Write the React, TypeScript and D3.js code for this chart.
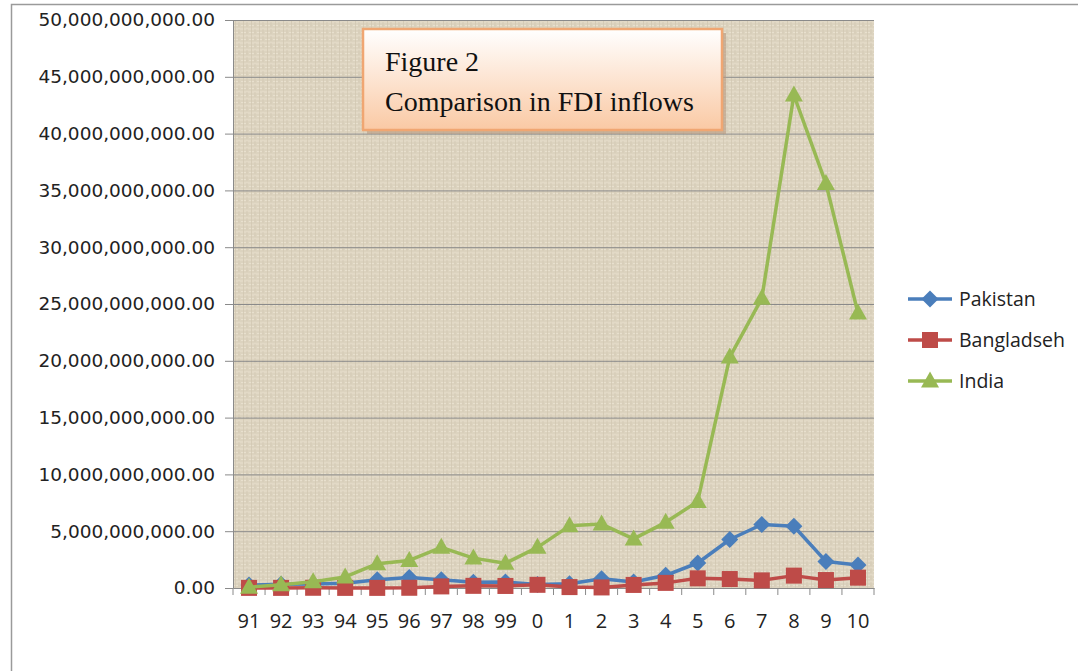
import React, { useEffect, useRef } from 'react';
import * as d3 from 'd3';

const years = ['91', '92', '93', '94', '95', '96', '97', '98', '99', '0', '1', '2', '3', '4', '5', '6', '7', '8', '9', '10'];
const pakistan = [0.26, 0.34, 0.35, 0.42, 0.72, 0.92, 0.72, 0.51, 0.53, 0.31, 0.38, 0.82, 0.53, 1.12, 2.2, 4.27, 5.59, 5.44, 2.34, 2.02];
const bangladesh = [0.01, 0.01, 0.02, 0.01, 0.01, 0.02, 0.14, 0.19, 0.18, 0.28, 0.08, 0.05, 0.27, 0.45, 0.85, 0.79, 0.67, 1.09, 0.7, 0.91];
const india = [0.07, 0.28, 0.55, 0.97, 2.14, 2.43, 3.58, 2.63, 2.17, 3.58, 5.47, 5.63, 4.32, 5.78, 7.62, 20.33, 25.5, 43.4, 35.6, 24.2];
const yTicks = [0, 5, 10, 15, 20, 25, 30, 35, 40, 45, 50];

const series = [
  { name: 'Pakistan', values: pakistan, color: '#4a7ebb', marker: 'diamond' },
  { name: 'Bangladseh', values: bangladesh, color: '#be4b48', marker: 'square' },
  { name: 'India', values: india, color: '#98b954', marker: 'triangle' },
];

const W = 1078;
const H = 671;
const margin = { top: 20, right: 204, bottom: 83, left: 233 };

const App = () => {
  const svgRef = useRef<SVGSVGElement>(null);

  useEffect(() => {
    const svg = d3.select(svgRef.current);
    svg.selectAll('*').remove();

    const innerW = W - margin.left - margin.right;
    const innerH = H - margin.top - margin.bottom;

    const defs = svg.append('defs');
    const pat = defs.append('pattern')
      .attr('id', 'linen')
      .attr('patternUnits', 'userSpaceOnUse')
      .attr('width', 8).attr('height', 7);
    pat.append('rect').attr('width', 8).attr('height', 7).attr('fill', '#dcd3bf');
    pat.append('path').attr('d', 'M0 2H8M0 5.5H5').attr('stroke', '#e8e0ce').attr('stroke-width', 1);
    pat.append('path').attr('d', 'M2.5 0V7M6 2V7').attr('stroke', '#d2c8b2').attr('stroke-width', 0.8);

    const grad = defs.append('linearGradient')
      .attr('id', 'boxGrad').attr('x1', 0).attr('y1', 0).attr('x2', 0).attr('y2', 1);
    grad.append('stop').attr('offset', '0%').attr('stop-color', '#ffffff');
    grad.append('stop').attr('offset', '100%').attr('stop-color', '#fac9a4');

    // outer frame
    svg.append('rect')
      .attr('x', 11.5).attr('y', 4.5)
      .attr('width', W + 20).attr('height', H + 20)
      .attr('fill', 'white')
      .attr('stroke', '#9a9a9a').attr('stroke-width', 1.5);

    const g = svg.append('g').attr('transform', `translate(${margin.left},${margin.top})`);

    const x = d3.scaleBand().domain(years).range([0, innerW]);
    const y = d3.scaleLinear().domain([0, 50]).range([innerH, 0]);

    g.append('rect')
      .attr('width', innerW).attr('height', innerH)
      .attr('fill', 'url(#linen)');

    // gridlines
    g.selectAll('.grid')
      .data(yTicks.slice(1))
      .enter().append('line')
      .attr('x1', 0).attr('x2', innerW)
      .attr('y1', d => y(d) + 0.5).attr('y2', d => y(d) + 0.5)
      .attr('stroke', '#8a8a8a').attr('stroke-width', 1);

    // y axis
    const yAxis = g.append('g')
      .call(d3.axisLeft(y).tickValues(yTicks).tickSize(8).tickPadding(10)
        .tickFormat(d => d3.format(',.2f')((d as number) * 1e9)));
    yAxis.select('.domain').attr('stroke', '#8a8a8a');
    yAxis.selectAll('line').attr('stroke', '#8a8a8a');
    yAxis.selectAll('text')
      .attr('font-family', 'DejaVu Sans')
      .attr('font-size', 18.5)
      .attr('fill', '#222');

    // x axis
    const xAxis = g.append('g')
      .attr('transform', `translate(0,${innerH})`)
      .call(d3.axisBottom(x).tickSize(0).tickPadding(26));
    xAxis.select('.domain').attr('stroke', '#8a8a8a');
    xAxis.selectAll('text')
      .attr('font-family', 'Open Sans')
      .attr('font-size', 20)
      .attr('fill', '#222');
    g.selectAll('.xtick')
      .data(d3.range(years.length + 1))
      .enter().append('line')
      .attr('x1', i => i * x.step()).attr('x2', i => i * x.step())
      .attr('y1', innerH).attr('y2', innerH + 7)
      .attr('stroke', '#8a8a8a');

    const cx = (i: number) => (x(years[i]) as number) + x.bandwidth() / 2;

    const drawMarker = (sel: any, marker: string, color: string) => {
      if (marker === 'diamond') {
        sel.append('path').attr('d', 'M0,-8.5L8.5,0L0,8.5L-8.5,0Z').attr('fill', color);
      } else if (marker === 'square') {
        sel.append('rect').attr('x', -8).attr('y', -8).attr('width', 16).attr('height', 16).attr('fill', color);
      } else {
        sel.append('path').attr('d', 'M0,-9.5L9,6.5L-9,6.5Z').attr('fill', color);
      }
    };

    const line = d3.line<number>()
      .x((_, i) => cx(i))
      .y(d => y(d));

    series.forEach(s => {
      g.append('path')
        .datum(s.values)
        .attr('d', line)
        .attr('fill', 'none')
        .attr('stroke', s.color)
        .attr('stroke-width', 3.5)
        .attr('stroke-linejoin', 'round');
      s.values.forEach((v, i) => {
        const m = g.append('g').attr('transform', `translate(${cx(i)},${y(v)})`);
        drawMarker(m, s.marker, s.color);
      });
    });

    // legend
    const legend = svg.append('g').attr('transform', `translate(908,299)`);
    series.forEach((s, i) => {
      const row = legend.append('g').attr('transform', `translate(0,${i * 41})`);
      row.append('line').attr('x1', 0).attr('x2', 44).attr('stroke', s.color).attr('stroke-width', 3.5);
      const m = row.append('g').attr('transform', 'translate(22,0)');
      drawMarker(m, s.marker, s.color);
      row.append('text')
        .attr('x', 51).attr('dy', '0.35em')
        .attr('font-family', 'Open Sans')
        .attr('font-size', 19.5)
        .attr('fill', '#222')
        .text(s.name);
    });

    // title box
    const box = svg.append('g').attr('transform', 'translate(363,29)');
    box.append('rect')
      .attr('x', 4).attr('y', 4).attr('width', 359).attr('height', 101)
      .attr('fill', '#b89a80').attr('opacity', 0.6);
    box.append('rect')
      .attr('width', 359).attr('height', 101)
      .attr('fill', 'url(#boxGrad)')
      .attr('stroke', '#f0a672').attr('stroke-width', 2.5);
    box.append('text')
      .attr('x', 22).attr('y', 42)
      .attr('font-family', 'Liberation Serif')
      .attr('font-size', 28)
      .attr('fill', '#111')
      .text('Figure 2');
    box.append('text')
      .attr('x', 22).attr('y', 82)
      .attr('font-family', 'Liberation Serif')
      .attr('font-size', 28)
      .attr('fill', '#111')
      .text('Comparison in FDI inflows');
  }, []);

  return (
    <svg ref={svgRef} width={W} height={H}
      style={{ position: 'absolute', left: 0, top: 0, display: 'block' }} />
  );
};

export default App;
